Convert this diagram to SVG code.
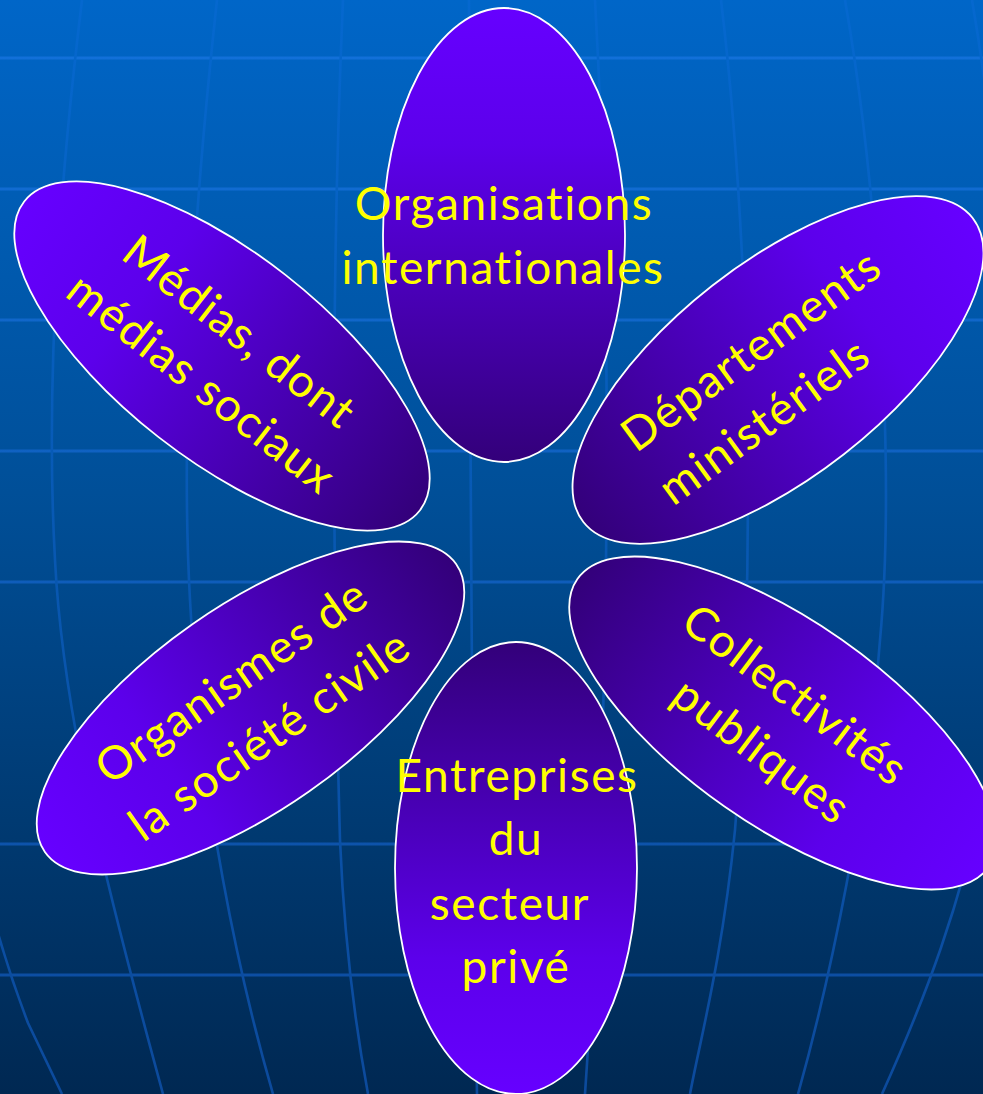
<svg xmlns="http://www.w3.org/2000/svg" width="983" height="1094" viewBox="0 0 983 1094">
  <defs>
    <linearGradient id="bg" x1="0" y1="0" x2="0" y2="1">
      <stop offset="0" stop-color="#0066c8"/>
      <stop offset="0.45" stop-color="#004f98"/>
      <stop offset="0.75" stop-color="#003a72"/>
      <stop offset="1" stop-color="#002852"/>
    </linearGradient>
    <linearGradient id="hline" gradientUnits="userSpaceOnUse" x1="0" y1="0" x2="0" y2="1094">
      <stop offset="0" stop-color="#1272dc"/>
      <stop offset="1" stop-color="#0c4a9c"/>
    </linearGradient>
    <linearGradient id="vline" gradientUnits="userSpaceOnUse" x1="0" y1="0" x2="0" y2="1094">
      <stop offset="0" stop-color="#0568cf"/>
      <stop offset="0.5" stop-color="#0858b2"/>
      <stop offset="1" stop-color="#0c4a9c"/>
    </linearGradient>
    <linearGradient id="petal" x1="0" y1="0" x2="0" y2="1">
      <stop offset="0" stop-color="#6600ff"/>
      <stop offset="0.3" stop-color="#5c00eb"/>
      <stop offset="1" stop-color="#33007a"/>
    </linearGradient>
  </defs>
  <style>
    .petal { fill: url(#petal); stroke: #ffffff; stroke-width: 1.8; }
    .lbl { font-family: Lato, "Liberation Sans", sans-serif; font-size: 46px; letter-spacing: 1.6px; font-variant-ligatures: none; fill: #ffff00; text-anchor: middle; }
    .h { stroke: url(#hline); stroke-width: 3; fill: none; }
    .v { stroke: url(#vline); stroke-width: 2.6; fill: none; }
  </style>

  <rect x="0" y="0" width="983" height="1094" fill="url(#bg)"/>

  <g id="grid">
    <line class="h" x1="0" y1="58" x2="983" y2="58"/>
    <line class="h" x1="0" y1="189" x2="983" y2="189"/>
    <line class="h" x1="0" y1="320" x2="983" y2="320"/>
    <line class="h" x1="0" y1="451" x2="983" y2="451"/>
    <line class="h" x1="0" y1="582" x2="983" y2="582"/>
    <line class="h" x1="0" y1="844" x2="983" y2="844"/>
    <line class="h" x1="0" y1="975" x2="983" y2="975"/>
    <path class="v" d="M-45,700 C-30,850 0,950 28,1023 L62,1094"/>
    <path class="v" d="M82,0 C60,180 45,380 55,560 C63,720 110,900 163,1094"/>
    <path class="v" d="M217,0 C195,200 180,420 190,600 C200,800 240,980 273,1094"/>
    <path class="v" d="M343,0 C332,250 332,550 340,840 C345,960 358,1040 368,1094"/>
    <path class="v" d="M469,0 C470,300 470,700 477,1094"/>
    <path class="v" d="M595,0 C612,300 612,700 585,1094"/>
    <path class="v" d="M721,0 C745,200 760,520 735,830 C722,960 700,1040 690,1094"/>
    <path class="v" d="M845,0 C880,200 895,480 880,640 C868,800 830,980 798,1094"/>
    <path class="v" d="M972,0 C1010,220 1030,560 990,760 C965,900 920,1010 882,1094"/>
  </g>

  <g id="connectors"></g>

  <g id="n-organisations">
    <ellipse class="petal" transform="translate(504,235)" rx="121" ry="227"/>
    <text class="lbl" x="504" y="220">Organisations</text>
    <text class="lbl" x="503" y="284">internationales</text>
  </g>

  <g id="n-departements">
    <ellipse class="petal" transform="translate(778,370) rotate(52)" rx="107" ry="247"/>
    <g transform="translate(778,370) rotate(-36)">
      <text class="lbl" x="-10" y="-16">Départements</text>
      <text class="lbl" x="-41" y="49">ministériels</text>
    </g>
  </g>

  <g id="n-collectivites">
    <ellipse class="petal" transform="translate(783,723) rotate(125)" rx="102" ry="251"/>
    <g transform="translate(783,723) rotate(37)">
      <text class="lbl" x="-7" y="-14">Collectivités</text>
      <text class="lbl" x="0" y="51">publiques</text>
    </g>
  </g>

  <g id="n-entreprises">
    <ellipse class="petal" transform="translate(516,868) rotate(180)" rx="121" ry="226"/>
    <text class="lbl" x="517" y="792">Entreprises</text>
    <text class="lbl" x="516" y="855">du</text>
    <text class="lbl" x="510" y="920">secteur</text>
    <text class="lbl" x="516" y="983">privé</text>
  </g>

  <g id="n-organismes">
    <ellipse class="petal" transform="translate(250.5,708) rotate(-125)" rx="102" ry="251"/>
    <g transform="translate(250.5,708) rotate(-35)">
      <text class="lbl" x="0" y="-17">Organismes de</text>
      <text class="lbl" x="0" y="49">la société civile</text>
    </g>
  </g>

  <g id="n-medias">
    <ellipse class="petal" transform="translate(222,356) rotate(-52)" rx="103" ry="251"/>
    <g transform="translate(222,356) rotate(38)">
      <text class="lbl" x="-1" y="-14">Médias, dont</text>
      <text class="lbl" x="1" y="50">médias sociaux</text>
    </g>
  </g>
</svg>
